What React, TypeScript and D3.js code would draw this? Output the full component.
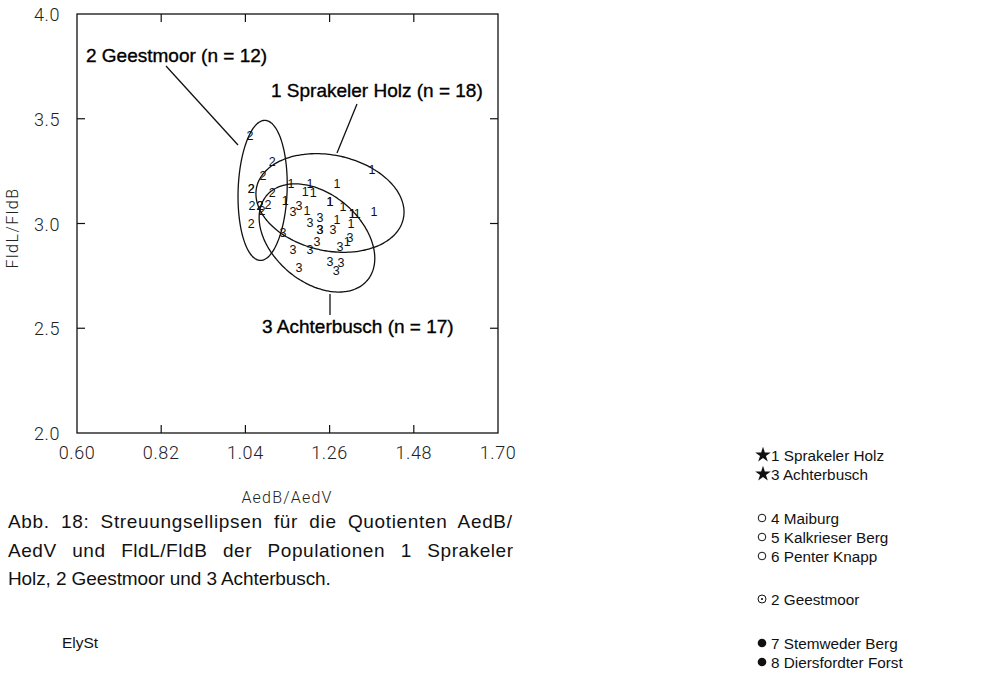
import React from "react";
import * as d3 from "d3";

// ---------- data ----------
const xTicks = [0.6, 0.82, 1.04, 1.26, 1.48, 1.7];
const yTicks = [2.0, 2.5, 3.0, 3.5, 4.0];

// Population 1 Sprakeler Holz (n = 18)
const pop1X = [1.159, 1.209, 1.196, 1.217, 1.279, 1.371, 1.261, 1.295, 1.319, 1.332, 1.376, 1.201, 1.279, 1.316, 1.144, 1.306, 1.261, 1.319];
const pop1Y = [3.193, 3.189, 3.155, 3.146, 3.189, 3.26, 3.103, 3.079, 3.05, 3.05, 3.055, 3.064, 3.021, 3.002, 3.112, 2.912, 3.103, 3.05];
// Population 2 Geestmoor (n = 12)
const pop2X = [1.052, 1.11, 1.086, 1.055, 1.055, 1.11, 1.057, 1.078, 1.099, 1.083, 1.055, 1.078];
const pop2Y = [3.418, 3.294, 3.231, 3.165, 3.165, 3.15, 3.084, 3.088, 3.093, 3.064, 3.002, 3.088];
// Population 3 Achterbusch (n = 17)
const pop3X = [1.164, 1.18, 1.209, 1.235, 1.235, 1.235, 1.269, 1.138, 1.227, 1.209, 1.164, 1.287, 1.313, 1.261, 1.29, 1.277, 1.18];
const pop3Y = [3.055, 3.088, 3.007, 3.031, 2.969, 2.969, 2.969, 2.959, 2.916, 2.874, 2.874, 2.888, 2.931, 2.821, 2.816, 2.778, 2.788];

// ellipses: centre (data), semi-axes (in x-data units), rotation (deg)
const ellLabels = ["1", "2", "3"];
const ellCX = [1.261, 1.085, 1.227];
const ellCY = [3.098, 3.158, 2.931];
const ellA = [0.196, 0.183, 0.172];
const ellB = [0.125, 0.064, 0.115];
const ellRot = [12, 92, 40];

const annoText = ["2 Geestmoor (n = 12)", "1 Sprakeler Holz (n = 18)", "3 Achterbusch (n = 17)"];

const legendNames = [
  "1 Sprakeler Holz", "3 Achterbusch", "4 Maiburg", "5 Kalkrieser Berg",
  "6 Penter Knapp", "2 Geestmoor", "7 Stemweder Berg", "8 Diersfordter Forst",
];
const legendSym = ["star", "star", "open", "open", "open", "dot", "filled", "filled"];

const caption = [
  "Abb. 18: Streuungsellipsen für die Quotienten AedB/",
  "AedV und FldL/FldB der Populationen 1 Sprakeler",
  "Holz, 2 Geestmoor und 3 Achterbusch.",
];

// ---------- layout ----------
const W = 983, H = 687;
const L = 77, R = 498, T = 14, B = 433;
const x = d3.scaleLinear().domain([0.6, 1.7]).range([L, R]);
const y = d3.scaleLinear().domain([2.0, 4.0]).range([B, T]);
const axisFont = "Roboto, 'Liberation Sans', sans-serif";
const sans = "'Liberation Sans', Arial, sans-serif";

function measure(text: string, font: string) {
  if (typeof document === "undefined") return 0;
  const c = document.createElement("canvas").getContext("2d");
  if (!c) return 0;
  c.font = font;
  return c.measureText(text).width;
}

export default function App() {
  const sx = x(1) - x(0);
  const ellPath = (i: number) => {
    const th = (ellRot[i] * Math.PI) / 180;
    const a = ellA[i] * sx, b = ellB[i] * sx;
    const cx = x(ellCX[i]), cy = y(ellCY[i]);
    const pts: [number, number][] = d3.range(0, 360, 2).map((d) => {
      const t = (d * Math.PI) / 180;
      return [
        cx + a * Math.cos(t) * Math.cos(th) - b * Math.sin(t) * Math.sin(th),
        cy + a * Math.cos(t) * Math.sin(th) + b * Math.sin(t) * Math.cos(th),
      ];
    });
    return d3.line().curve(d3.curveCardinalClosed)(pts) || "";
  };

  const pops = [
    { lab: "1", xs: pop1X, ys: pop1Y },
    { lab: "2", xs: pop2X, ys: pop2Y },
    { lab: "3", xs: pop3X, ys: pop3Y },
  ];

  const capSize = 19;
  const capFont = `${capSize}px ${sans}`;
  const capTarget = 505;
  const wordShare = [0.5, 0.7, 0];
  const capSpacing = caption.map((line, i) => {
    if (i === caption.length - 1) return { ws: 0, ls: -0.1 };
    const w = measure(line, capFont);
    if (!(w > 0)) return { ws: 0, ls: 0 };
    const spaces = line.split(" ").length - 1;
    const excess = capTarget - w;
    const ws = (excess * wordShare[i]) / spaces;
    const ls = (excess * (1 - wordShare[i])) / (line.length - 1);
    return { ws, ls };
  });

  const star = d3.symbol().type(d3.symbolStar).size(75)() || "";
  const legendY0 = 456;
  const legendGapY = [0, 19, 63, 82, 101, 144, 188, 207];

  const annos = [
    { t: annoText[0], tx: 86, ty: 62, l: [166, 66, 238, 145] },
    { t: annoText[1], tx: 271, ty: 97, l: [357, 104, 337, 153] },
    { t: annoText[2], tx: 262, ty: 333, l: [330, 294, 330, 315] },
  ];

  return (
    <svg width={W} height={H} style={{ position: "absolute", left: 0, top: 0, background: "#fff" }}>
      {/* frame */}
      <rect x={L} y={T} width={R - L} height={B - T} fill="none" stroke="#111" strokeWidth={1.3} />
      {xTicks.slice(1, -1).map((v) => (
        <g key={"xt" + v}>
          <line x1={x(v)} x2={x(v)} y1={B} y2={B - 8} stroke="#111" strokeWidth={1.2} />
          <line x1={x(v)} x2={x(v)} y1={T} y2={T + 8} stroke="#111" strokeWidth={1.2} />
        </g>
      ))}
      {yTicks.slice(1, -1).map((v) => (
        <g key={"yt" + v}>
          <line x1={L} x2={L + 8} y1={y(v)} y2={y(v)} stroke="#111" strokeWidth={1.2} />
          <line x1={R} x2={R - 8} y1={y(v)} y2={y(v)} stroke="#111" strokeWidth={1.2} />
        </g>
      ))}
      {xTicks.map((v) => (
        <text key={"xl" + v} x={x(v)} y={459} textAnchor="middle" fontFamily={axisFont} fontWeight={300}
          fontSize={18} letterSpacing={0.6} fill="#222">{v.toFixed(2)}</text>
      ))}
      {yTicks.map((v) => (
        <text key={"yl" + v} x={60} y={y(v) + 7} textAnchor="end" fontFamily={axisFont} fontWeight={300}
          fontSize={18} letterSpacing={0.6} fill="#222">{v.toFixed(1)}</text>
      ))}
      <text x={287} y={503} textAnchor="middle" fontFamily={axisFont} fontWeight={300} fontSize={16}
        letterSpacing={1.2} fill="#222">AedB/AedV</text>
      <text transform={`translate(18,${228}) rotate(-90)`} textAnchor="middle" fontFamily={axisFont}
        fontWeight={300} fontSize={16} letterSpacing={1.5} fill="#222">FldL/FldB</text>

      {/* ellipses */}
      {ellLabels.map((l, i) => (
        <path key={"e" + l} d={ellPath(i)} fill="none" stroke="#111" strokeWidth={1.3} />
      ))}

      {/* points */}
      {pops.map((p) =>
        p.xs.map((xv, j) => (
          <text key={p.lab + "-" + j} x={x(xv)} y={y(p.ys[j]) + 4.5} textAnchor="middle" fontFamily={sans}
            fontSize={12.5} fill="#111">{p.lab}</text>
        ))
      )}

      {/* annotations */}
      {annos.map((a) => (
        <g key={a.t}>
          <line x1={a.l[0]} y1={a.l[1]} x2={a.l[2]} y2={a.l[3]} stroke="#111" strokeWidth={1.3} />
          <text x={a.tx} y={a.ty} fontFamily={sans} fontSize={19} fill="#000" stroke="#000"
            strokeWidth={0.35}>{a.t}</text>
        </g>
      ))}

      {/* caption */}
      {caption.map((line, i) => (
        <text key={"c" + i} x={8} y={528 + i * 28.5} fontFamily={sans} fontSize={capSize} fill="#111"
          letterSpacing={capSpacing[i].ls} style={{ wordSpacing: capSpacing[i].ws + "px" }}>{line}</text>
      ))}
      <text x={62} y={648} fontFamily={sans} fontSize={15.5} fill="#111">ElySt</text>
      <text x={118} y={700} fontFamily={sans} fontSize={18} fill="#111">1</text>

      {/* legend */}
      {legendNames.map((n, i) => {
        const ly = legendY0 + legendGapY[i];
        const s = legendSym[i];
        return (
          <g key={n}>
            {s === "star" && <path d={star} transform={`translate(763,${ly - 1})`} fill="#111" />}
            {s === "open" && <circle cx={762} cy={ly - 1} r={3.8} fill="none" stroke="#111" strokeWidth={1} />}
            {s === "dot" && (
              <g>
                <circle cx={762} cy={ly - 1} r={4} fill="none" stroke="#111" strokeWidth={1} />
                <circle cx={762} cy={ly - 1} r={1.1} fill="#111" />
              </g>
            )}
            {s === "filled" && <circle cx={762} cy={ly - 1} r={4.3} fill="#111" />}
            <text x={771} y={ly + 5} fontFamily={sans} fontSize={15.3} fill="#111">{n}</text>
          </g>
        );
      })}
    </svg>
  );
}
